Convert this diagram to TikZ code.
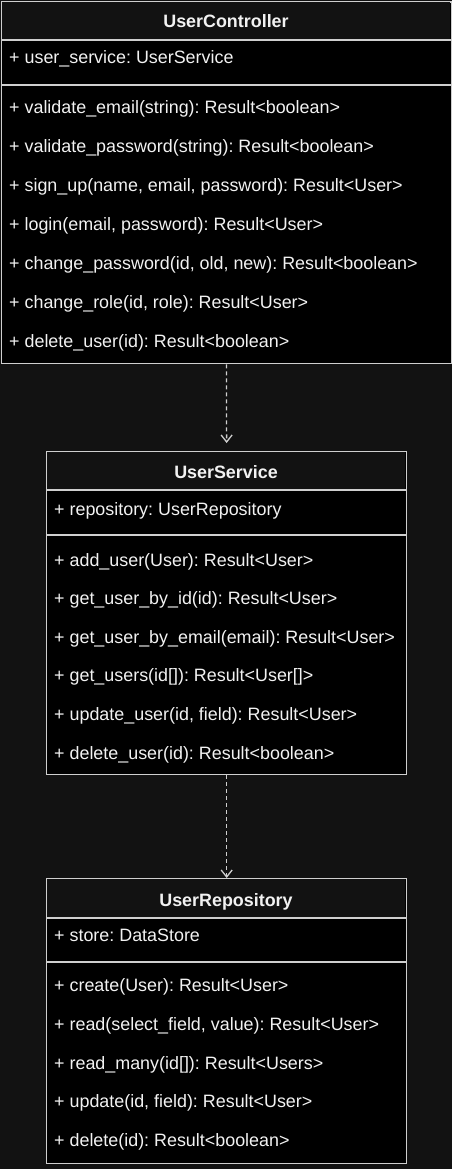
\documentclass[tikz,border=0pt]{standalone}
\usepackage{fontspec}
\setmainfont{Liberation Sans}
\usetikzlibrary{arrows.meta}
\definecolor{bg}{HTML}{121212}
\definecolor{edgecol}{HTML}{CFCFCF}
\definecolor{txtcol}{HTML}{F2F2F2}
\frenchspacing
\begin{document}
\begin{tikzpicture}[x=1pt,y=-1pt,
  umlbox/.style={draw=edgecol, fill=black, line width=1.3pt, inner sep=0pt, anchor=north west},
  hdr/.style={fill=bg},
  sepline/.style={draw=edgecol, line width=1.3pt},
  member/.style={text=txtcol, inner sep=0pt, anchor=base west, font=\fontsize{17.9}{20}\selectfont},
  umltitle/.style={text=txtcol, inner sep=0pt, anchor=base, font=\fontsize{17.9}{20}\selectfont\bfseries},
  dep/.style={draw=edgecol, line width=1.3pt, dash pattern=on 4pt off 3pt, -{Straight Barb[length=7pt,width=11pt,line width=1.3pt]}}
]
\fill[bg] (0,0) rectangle (452,1169);
\useasboundingbox (0,0) rectangle (452,1169);

% ---------- UserController ----------
\node[umlbox, minimum width=449.5pt, minimum height=361.5pt] (uc) at (1,1.5) {};
\fill[hdr] (1.65,2.15) rectangle (449.85,40);
\draw[sepline] (1,40) -- (450.5,40);
\draw[sepline] (1,85) -- (450.5,85);
\node[umltitle] (uct) at (226,27.3) {UserController};
\node[member] (uca) at (9,63.5) {+ user\_service: UserService};
\foreach \t [count=\i from 0] in {
  {+ validate\_email(string): Result<boolean>},
  {+ validate\_password(string): Result<boolean>},
  {+ sign\_up(name, email, password): Result<User>},
  {+ login(email, password): Result<User>},
  {+ change\_password(id, old, new): Result<boolean>},
  {+ change\_role(id, role): Result<User>},
  {+ delete\_user(id): Result<boolean>}}
  \node[member] (ucm\i) at (9,{114+38.9*\i}) {\t};

% ---------- UserService ----------
\node[umlbox, minimum width=360pt, minimum height=323pt] (us) at (46,451) {};
\fill[hdr] (46.65,451.65) rectangle (405.35,490);
\draw[sepline] (46,490) -- (406,490);
\draw[sepline] (46,535) -- (406,535);
\node[umltitle] (ust) at (226,478.3) {UserService};
\node[member] (usa) at (54,515) {+ repository: UserRepository};
\foreach \t [count=\i from 0] in {
  {+ add\_user(User): Result<User>},
  {+ get\_user\_by\_id(id): Result<User>},
  {+ get\_user\_by\_email(email): Result<User>},
  {+ get\_users(id[]): Result<User[]>},
  {+ update\_user(id, field): Result<User>},
  {+ delete\_user(id): Result<boolean>}}
  \node[member] (usm\i) at (54,{566+38.6*\i}) {\t};

% ---------- UserRepository ----------
\node[umlbox, minimum width=360pt, minimum height=285pt] (ur) at (46,878) {};
\fill[hdr] (46.65,878.65) rectangle (405.35,918);
\draw[sepline] (46,918) -- (406,918);
\draw[sepline] (46,962) -- (406,962);
\node[umltitle] (urt) at (226,906) {UserRepository};
\node[member] (ura) at (54,941.7) {+ store: DataStore};
\foreach \t [count=\i from 0] in {
  {+ create(User): Result<User>},
  {+ read(select\_field, value): Result<User>},
  {+ read\_many(id[]): Result<Users>},
  {+ update(id, field): Result<User>},
  {+ delete(id): Result<boolean>}}
  \node[member] (urm\i) at (54,{991.7+38.75*\i}) {\t};

% ---------- dependencies ----------
\draw[dep, shorten >=8pt] (uc.south) -- (us.north);
\draw[dep] (us.south) -- (ur.north);
\end{tikzpicture}
\end{document}
